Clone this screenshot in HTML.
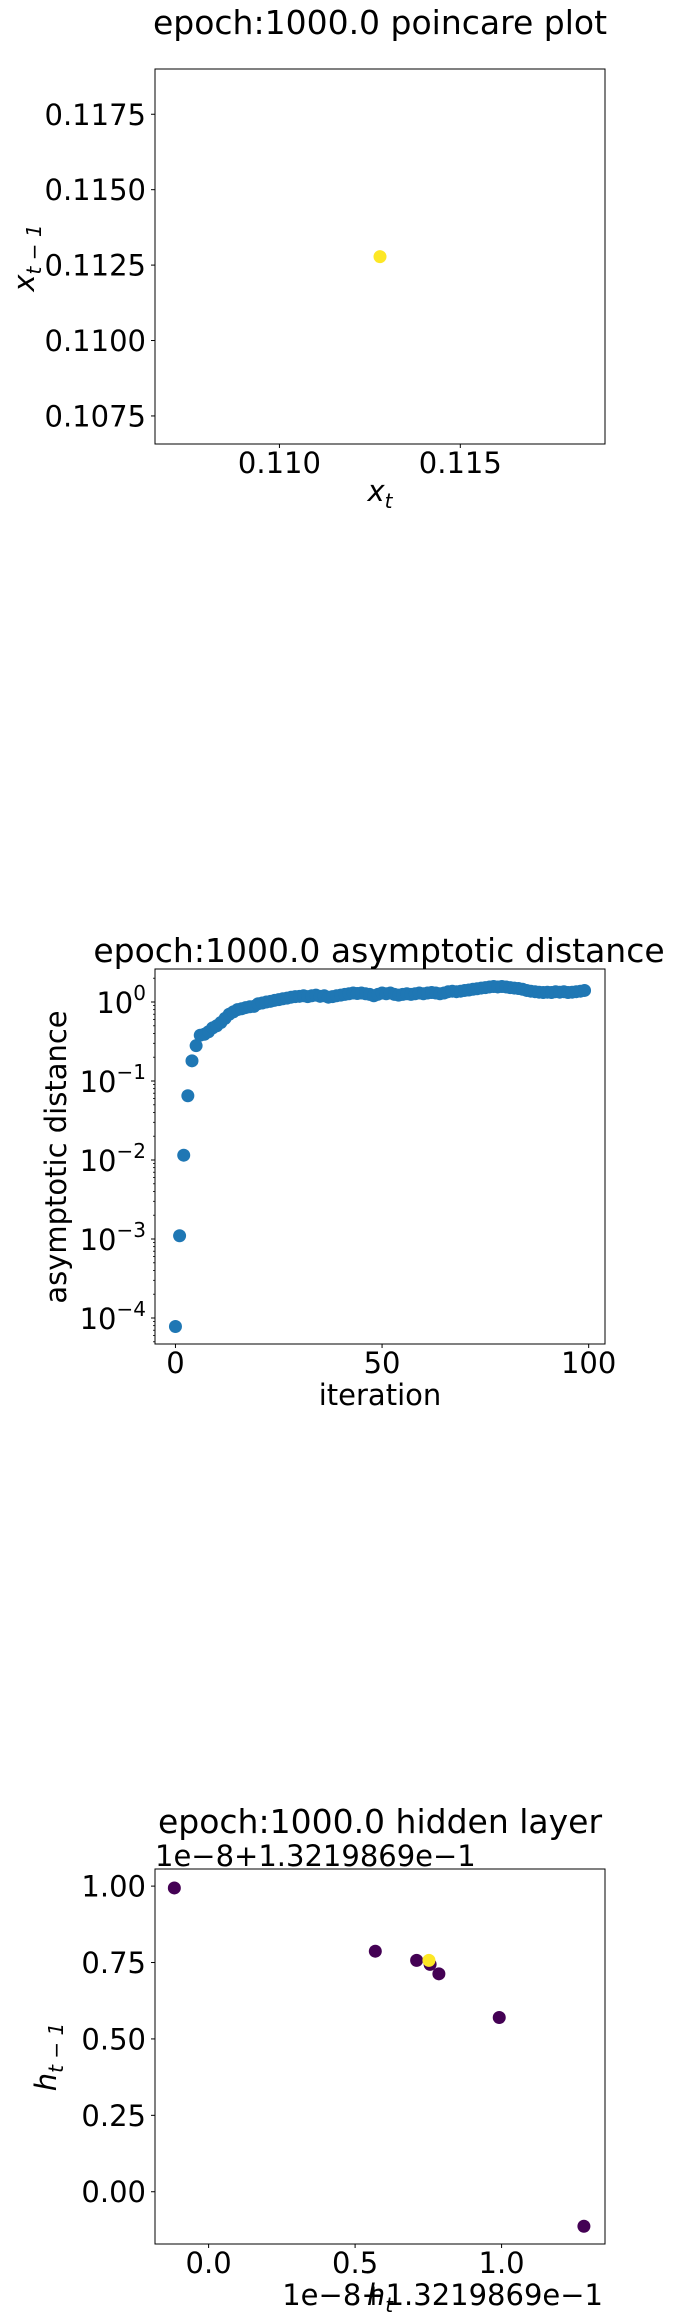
<!DOCTYPE html>
<html><head><meta charset="utf-8"><style>
html,body{margin:0;padding:0;background:#fff;}
svg{display:block;font-family:"DejaVu Sans","Liberation Sans",sans-serif;}
text{fill:#000;}
</style></head><body>
<svg id="fig" width="694" height="2323" viewBox="0 0 694 2323" xmlns="http://www.w3.org/2000/svg">
<g id="p1">
<text x="380" y="34" font-size="33" text-anchor="middle">epoch:1000.0 poincare plot</text>
<text x="380" y="501" font-size="29" font-style="italic" text-anchor="middle">x<tspan font-size="20" dy="7">t</tspan></text>
<text transform="translate(34,258) rotate(-90)" font-size="29" font-style="italic" text-anchor="middle">x<tspan font-size="20" dy="7">t − 1</tspan></text>
</g>
<g id="p2">
<text x="379" y="962" font-size="33" text-anchor="middle">epoch:1000.0 asymptotic distance</text>
<text x="380" y="1405" font-size="29" text-anchor="middle">iteration</text>
<text transform="translate(66,1157) rotate(-90)" font-size="29" text-anchor="middle">asymptotic distance</text>
</g>
<g id="p3">
<text x="380" y="1833" font-size="33" text-anchor="middle">epoch:1000.0 hidden layer</text>
<text x="155" y="1866" font-size="29">1e−8+1.3219869e−1</text>
<text x="603" y="2305" font-size="29" text-anchor="end">1e−8+1.3219869e−1</text>
<text x="380" y="2305" font-size="29" font-style="italic" text-anchor="middle">h<tspan font-size="20" dy="7">t</tspan></text>
<text transform="translate(56,2057) rotate(-90)" font-size="29" font-style="italic" text-anchor="middle">h<tspan font-size="20" dy="7">t − 1</tspan></text>
</g>
</svg>
<script>
// ---- Chart 1: poincare ----
const poincareX = [0.11278];
const poincareY = [0.11278];
const poincareXTicks = [0.110, 0.115];
const poincareXTickLabels = ["0.110", "0.115"];
const poincareYTicks = [0.1075, 0.1100, 0.1125, 0.1150, 0.1175];
const poincareYTickLabels = ["0.1075", "0.1100", "0.1125", "0.1150", "0.1175"];
// ---- Chart 2: asymptotic distance ----
const iterValues = [7.8e-5,1.1e-3,0.0115,0.065,0.18,0.28,0.38,0.39,0.42,0.47,
0.5,0.55,0.62,0.7,0.75,0.8,0.82,0.85,0.87,0.88,
0.95,0.97,1.0,1.02,1.05,1.07,1.1,1.12,1.15,1.17,
1.18,1.2,1.17,1.2,1.22,1.18,1.2,1.15,1.17,1.2,
1.22,1.25,1.27,1.3,1.28,1.3,1.27,1.25,1.2,1.25,
1.3,1.27,1.3,1.25,1.22,1.25,1.27,1.25,1.27,1.3,
1.27,1.3,1.32,1.3,1.27,1.3,1.35,1.37,1.35,1.37,
1.4,1.42,1.45,1.47,1.5,1.52,1.55,1.57,1.55,1.57,
1.55,1.52,1.5,1.48,1.45,1.4,1.37,1.35,1.33,1.32,
1.33,1.32,1.35,1.33,1.35,1.32,1.33,1.35,1.37,1.4];
const iterXTicks = [0, 50, 100];
const iterXTickLabels = ["0", "50", "100"];
const iterYDecades = [-4, -3, -2, -1, 0];
// ---- Chart 3: hidden layer ----
const hiddenX = [-0.117, 0.569, 0.710, 0.756, 0.786, 0.992, 1.281, 0.752];
const hiddenY = [0.994, 0.787, 0.757, 0.744, 0.713, 0.570, -0.113, 0.757];
const hiddenColor = ["#440154","#440154","#440154","#440154","#440154","#440154","#440154","#fde725"];
const hiddenXTicks = [0.0, 0.5, 1.0];
const hiddenXTickLabels = ["0.0", "0.5", "1.0"];
const hiddenYTicks = [0.00, 0.25, 0.50, 0.75, 1.00];
const hiddenYTickLabels = ["0.00", "0.25", "0.50", "0.75", "1.00"];

const NS = "http://www.w3.org/2000/svg";
function mk(parent, tag, attrs, txt) {
  const e = document.createElementNS(NS, tag);
  for (const k in attrs) e.setAttribute(k, attrs[k]);
  if (txt !== undefined) e.textContent = txt;
  parent.appendChild(e);
  return e;
}
function lin(d0, d1, r0, r1) { return v => r0 + (v - d0) / (d1 - d0) * (r1 - r0); }
const L = 155, R = 605;

function frame(g, top, bottom) {
  const f = mk(g, "rect", {x: L, y: top, width: R - L, height: bottom - top, fill: "none", stroke: "#000", "stroke-width": 1});
  
  
}
function xTicks(g, ticks, labels, sx, bottom, labelY) {
  ticks.forEach((t, i) => {
    const x = sx(t);
    const tl = mk(g, "line", {x1: x, x2: x, y1: bottom, y2: bottom + 4, stroke: "#000"});
    
    
    const tx = mk(g, "text", {x: x, y: labelY, "font-size": 29, "text-anchor": "middle"}, labels[i]);
    
    
  });
}
function yTicks(g, ticks, labels, sy) {
  ticks.forEach((t, i) => {
    const y = sy(t);
    const tl = mk(g, "line", {x1: L - 4, x2: L, y1: y, y2: y, stroke: "#000"});
    
    
    const tx = mk(g, "text", {x: L - 9, y: y + 10.5, "font-size": 29, "text-anchor": "end"}, labels[i]);
    
    
  });
}

// Chart 1
(function () {
  const g = document.getElementById("p1");
  const top = 69, bottom = 444;
  const sx = lin(0.10656, 0.11900, L, R);
  const sy = lin(0.10657, 0.11900, bottom, top);
  frame(g, top, bottom);
  xTicks(g, poincareXTicks, poincareXTickLabels, sx, bottom, 473);
  yTicks(g, poincareYTicks, poincareYTickLabels, sy);
  poincareX.forEach((v, i) => {
    const c = mk(g, "circle", {cx: sx(v), cy: sy(poincareY[i]), r: 6.5, fill: "#fde725"});
    
    
  });
})();

// Chart 2
(function () {
  const g = document.getElementById("p2");
  const top = 969, bottom = 1344;
  const sx = lin(-4.95, 103.95, L, R);
  const y0 = 1002, dec = 79;
  const sy = v => y0 - Math.log10(v) * dec;
  frame(g, top, bottom);
  xTicks(g, iterXTicks, iterXTickLabels, sx, bottom, 1373);
  for (let d = -5; d <= 0; d++) {
    for (let m = 2; m <= 9; m++) {
      const y = sy(m * Math.pow(10, d));
      if (y < top || y > bottom) continue;
      const ml = mk(g, "line", {x1: L - 2, x2: L, y1: y, y2: y, stroke: "#000", "stroke-width": 0.8});
      
      
    }
  }
  iterYDecades.forEach(d => {
    const y = sy(Math.pow(10, d));
    const tl = mk(g, "line", {x1: L - 4, x2: L, y1: y, y2: y, stroke: "#000"});
    
    
    const tx = mk(g, "text", {x: L - 9, y: y + 11, "font-size": 29, "text-anchor": "end"});
    
    
    tx.appendChild(document.createTextNode("10"));
    const sup = mk(tx, "tspan", {"font-size": 20, dy: -13}, d === 0 ? "0" : "−" + (-d));
  });
  iterValues.forEach((v, i) => {
    const c = mk(g, "circle", {cx: sx(i), cy: sy(v), r: 6.5, fill: "#1f77b4"});
    
    
  });
})();

// Chart 3
(function () {
  const g = document.getElementById("p3");
  const top = 1869, bottom = 2244;
  const sx = lin(-0.183, 1.353, L, R);
  const sy = lin(-0.171, 1.056, bottom, top);
  frame(g, top, bottom);
  xTicks(g, hiddenXTicks, hiddenXTickLabels, sx, bottom, 2273);
  yTicks(g, hiddenYTicks, hiddenYTickLabels, sy);
  hiddenX.forEach((v, i) => {
    const c = mk(g, "circle", {cx: sx(v), cy: sy(hiddenY[i]), r: 6.5, fill: hiddenColor[i]});
    
    
  });
})();
</script>
</body></html>
